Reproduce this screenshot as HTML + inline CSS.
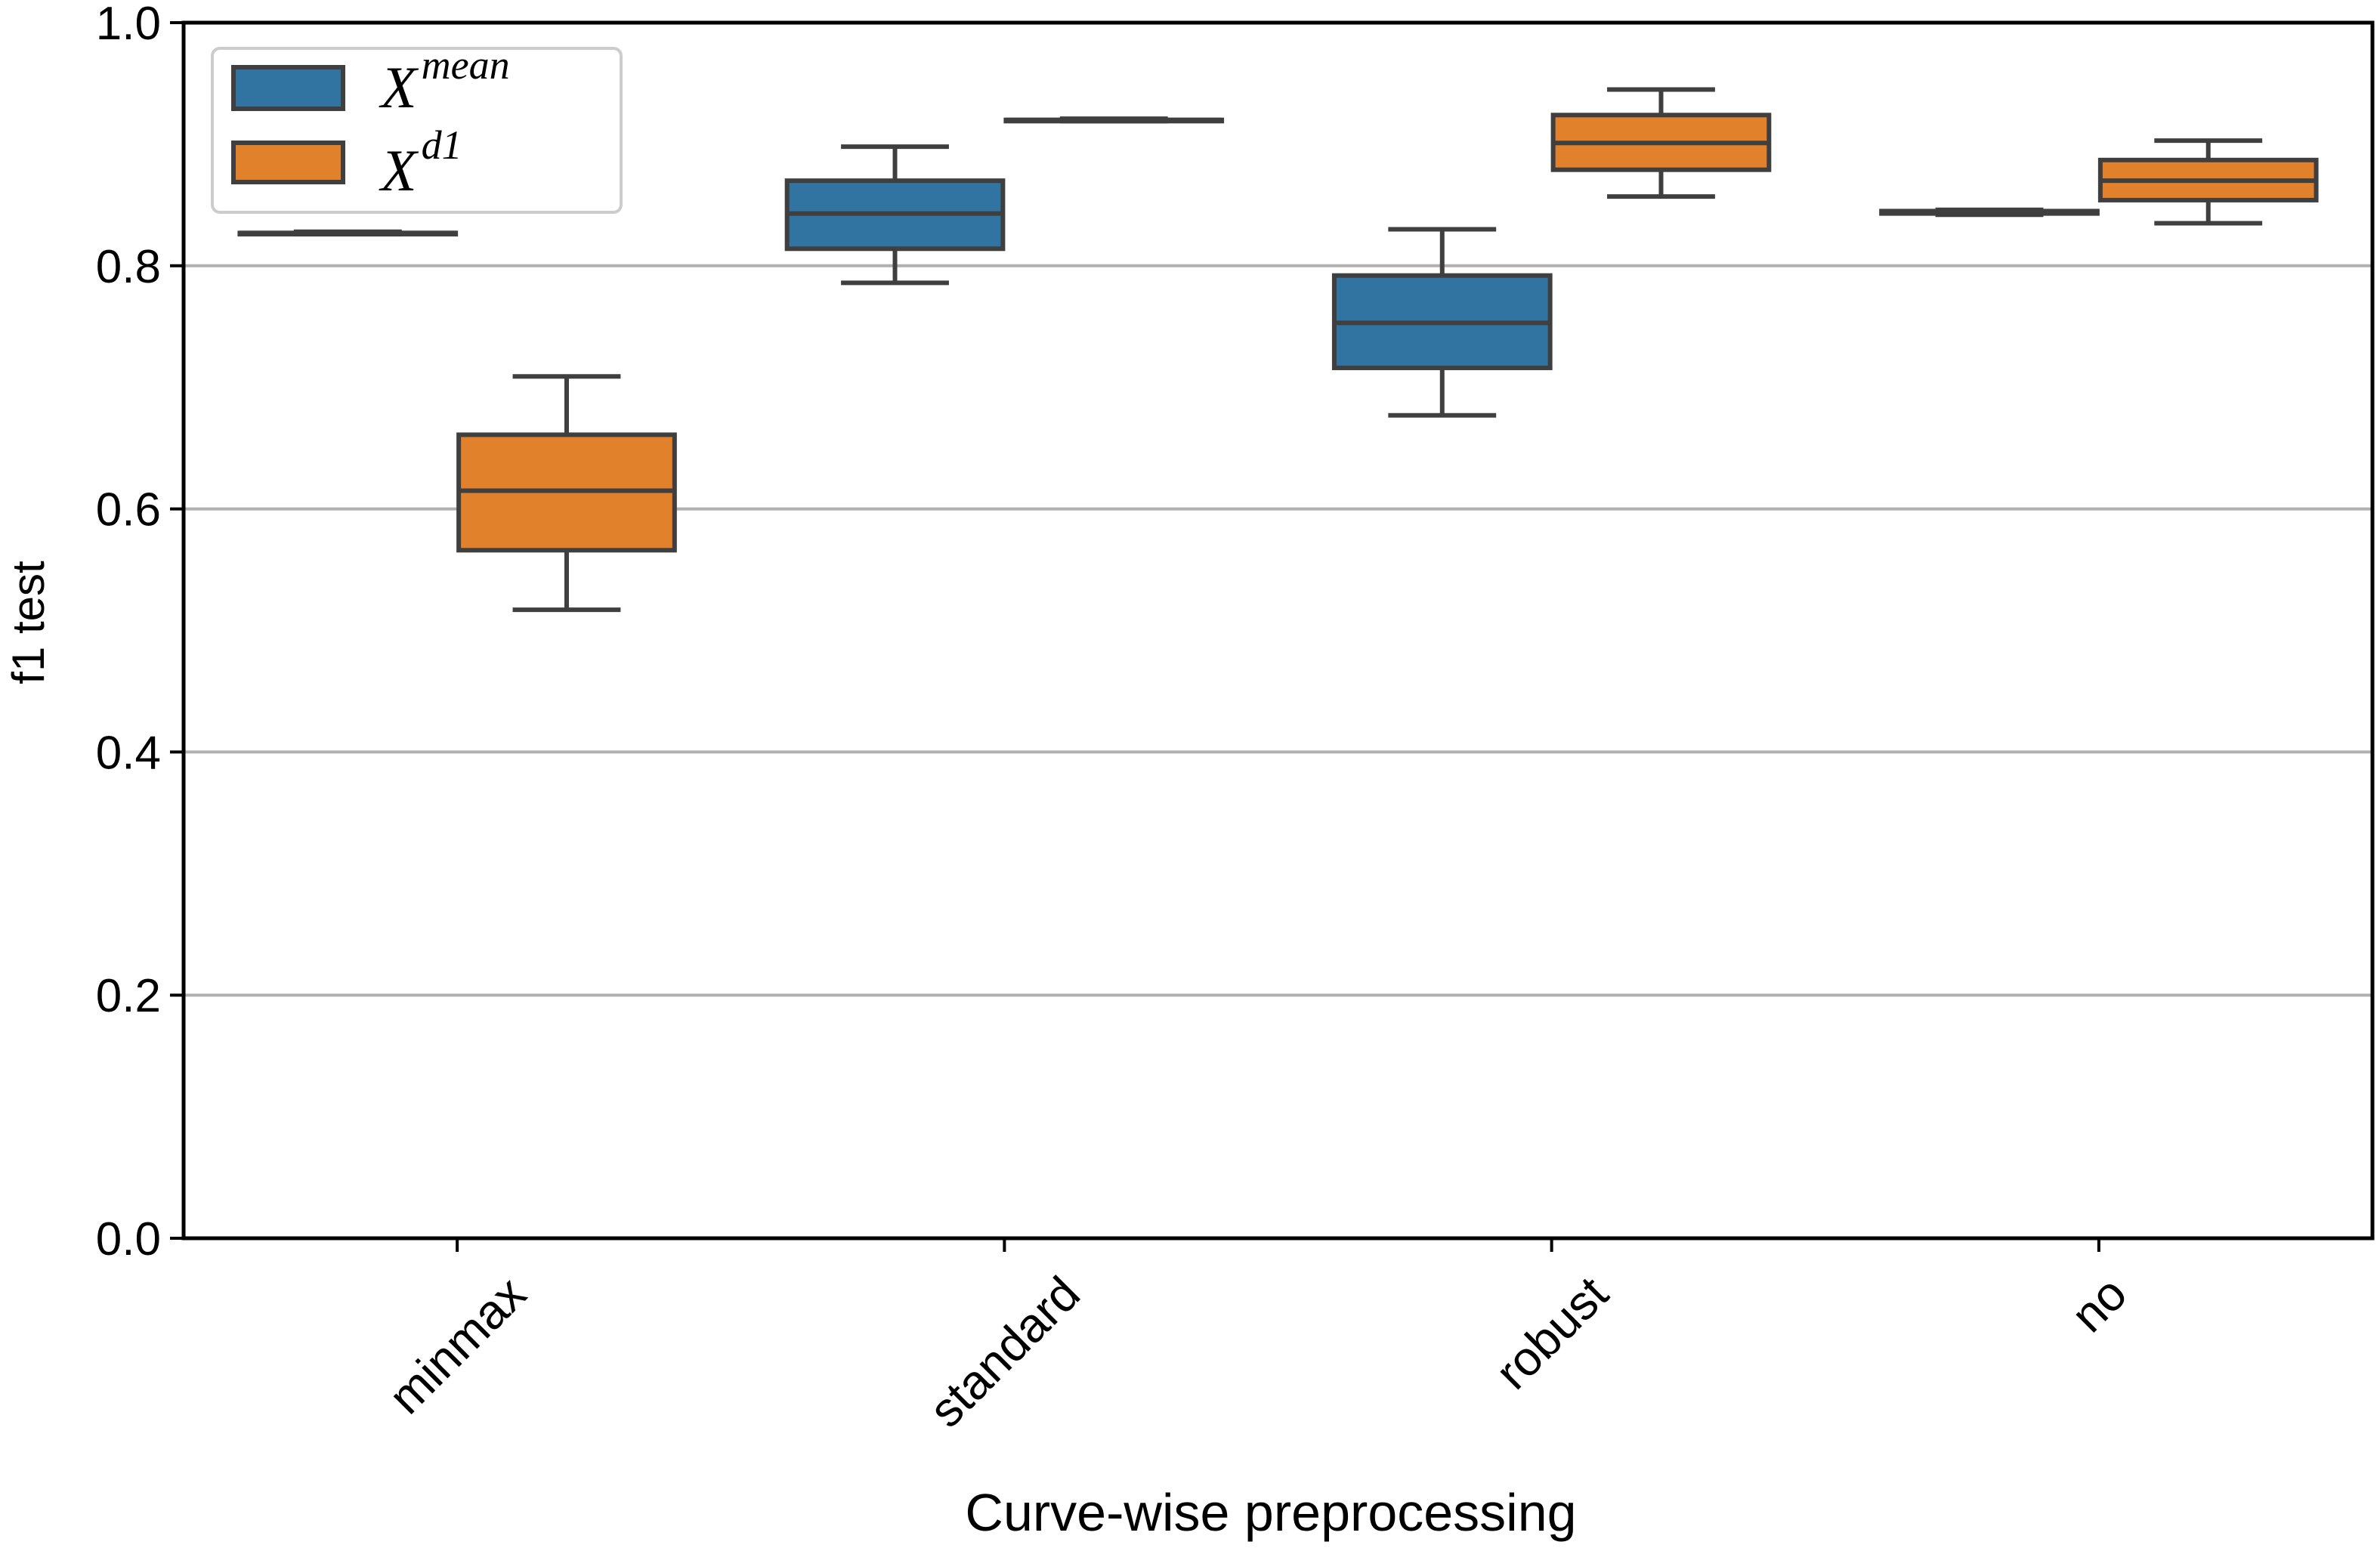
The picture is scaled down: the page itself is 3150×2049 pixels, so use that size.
<!DOCTYPE html>
<html><head><meta charset="utf-8"><style>
html,body{margin:0;padding:0;background:#fff;}
svg{display:block;font-family:"Liberation Sans",sans-serif;}
</style></head><body>
<svg id="chart" width="3150" height="2049" viewBox="0 0 3150 2049" xmlns="http://www.w3.org/2000/svg">
<rect width="3150" height="2049" fill="#fff"/>
<g id="grid"></g>
<g id="boxes"></g>
<g id="axes"></g>
<g id="legend">
  <rect x="281" y="64" width="541" height="217" rx="10" fill="#fff" stroke="#cccccc" stroke-width="4"/>
  <rect x="309" y="89" width="145" height="55" fill="#3274a1" stroke="#3f3f3f" stroke-width="6"/>
  <rect x="309" y="189" width="145" height="52" fill="#e1812c" stroke="#3f3f3f" stroke-width="6"/>
  <text x="504" y="142" font-family="'Liberation Serif',serif" font-style="italic" font-size="78" fill="#000">X<tspan dx="6" dy="-38" font-size="54">mean</tspan></text>
  <text x="504" y="252" font-family="'Liberation Serif',serif" font-style="italic" font-size="78" fill="#000">X<tspan dx="6" dy="-42" font-size="54">d1</tspan></text>
</g>
<text x="0" y="0" font-size="60" text-anchor="middle" transform="translate(58,824) rotate(-90)">f1 test</text>
<text x="1682" y="2026" font-size="70" text-anchor="middle">Curve-wise preprocessing</text>
</svg>
<script>
const categories = ["minmax", "standard", "robust", "no"];
const seriesNames = ["X^mean", "X^d1"];
// each entry: [whiskerLow, q1, median, q3, whiskerHigh]
const meanStats = [
  [0.826, 0.826, 0.827, 0.827, 0.828],
  [0.786, 0.814, 0.843, 0.870, 0.898],
  [0.677, 0.716, 0.753, 0.792, 0.830],
  [0.842, 0.843, 0.844, 0.845, 0.846]
];
const d1Stats = [
  [0.517, 0.566, 0.615, 0.661, 0.709],
  [0.919, 0.919, 0.920, 0.920, 0.921],
  [0.857, 0.879, 0.901, 0.924, 0.945],
  [0.835, 0.854, 0.870, 0.887, 0.903]
];
const yTicks = [0.0, 0.2, 0.4, 0.6, 0.8, 1.0];
const yTickLabels = ["0.0", "0.2", "0.4", "0.6", "0.8", "1.0"];

const NS = "http://www.w3.org/2000/svg";
const L = 243, R = 3140, T = 30, B = 1639;
const colors = ["#3274a1", "#e1812c"];
const edge = "#3f3f3f";
function yScale(v){ return B - v * (B - T); }
function xBand(i){ return L + (R - L) / categories.length * (i + 0.5); }
const band = (R - L) / categories.length;
function mk(tag, attrs, parent){
  const el = document.createElementNS(NS, tag);
  for (const k in attrs) el.setAttribute(k, attrs[k]);
  parent.appendChild(el);
  return el;
}
const grid = document.getElementById("grid");
const axes = document.getElementById("axes");
const boxes = document.getElementById("boxes");

yTicks.forEach((t, i) => {
  const y = yScale(t);
  if (t > 0 && t < 1) {
    const g = mk("line", {x1: L, x2: R, y1: y, y2: y, stroke: "#b0b0b0", "stroke-width": 4}, grid);
    
    
  }
  const tk = mk("line", {x1: L - 18, x2: L, y1: y, y2: y, stroke: "#000", "stroke-width": 4}, axes);
  
  
  const tx = mk("text", {x: L - 30, y: y + 22, "font-size": 62, "text-anchor": "end"}, axes);
  tx.textContent = yTickLabels[i];
  
  
});

const frame = mk("rect", {x: L, y: T, width: R - L, height: B - T, fill: "none", stroke: "#000", "stroke-width": 5}, axes);



categories.forEach((c, i) => {
  const x = xBand(i);
  const tk = mk("line", {x1: x, x2: x, y1: B, y2: B + 18, stroke: "#000", "stroke-width": 4}, axes);
  
  
  const tx = mk("text", {x: 0, y: 0, "font-size": 64, "text-anchor": "middle", "dominant-baseline": "central"}, axes);
  tx.textContent = c;
  
  
  const w = tx.getComputedTextLength ? tx.getComputedTextLength() : c.length * 32;
  const half = (w + 46) * 0.7071 / 2;
  tx.setAttribute("transform", "translate(" + x + "," + (B + 46 + half) + ") rotate(-45)");
});

const allStats = [meanStats, d1Stats];
allStats.forEach((stats, s) => {
  stats.forEach((st, i) => {
    const cx = xBand(i) + (s === 0 ? -0.2 : 0.2) * band;
    const bw = 0.4 * band - 4;
    const g = mk("g", {}, boxes);
    
    
    const lw = 6;
    mk("line", {x1: cx, x2: cx, y1: yScale(st[0]), y2: yScale(st[1]), stroke: edge, "stroke-width": lw}, g);
    mk("line", {x1: cx, x2: cx, y1: yScale(st[3]), y2: yScale(st[4]), stroke: edge, "stroke-width": lw}, g);
    mk("line", {x1: cx - bw / 4, x2: cx + bw / 4, y1: yScale(st[0]), y2: yScale(st[0]), stroke: edge, "stroke-width": lw}, g);
    mk("line", {x1: cx - bw / 4, x2: cx + bw / 4, y1: yScale(st[4]), y2: yScale(st[4]), stroke: edge, "stroke-width": lw}, g);
    const h = Math.max(0.5, yScale(st[1]) - yScale(st[3]));
    mk("rect", {x: cx - bw / 2, y: yScale(st[3]), width: bw, height: h, fill: colors[s], stroke: edge, "stroke-width": lw}, g);
    mk("line", {x1: cx - bw / 2, x2: cx + bw / 2, y1: yScale(st[2]), y2: yScale(st[2]), stroke: edge, "stroke-width": lw}, g);
  });
});
</script>
</body></html>
